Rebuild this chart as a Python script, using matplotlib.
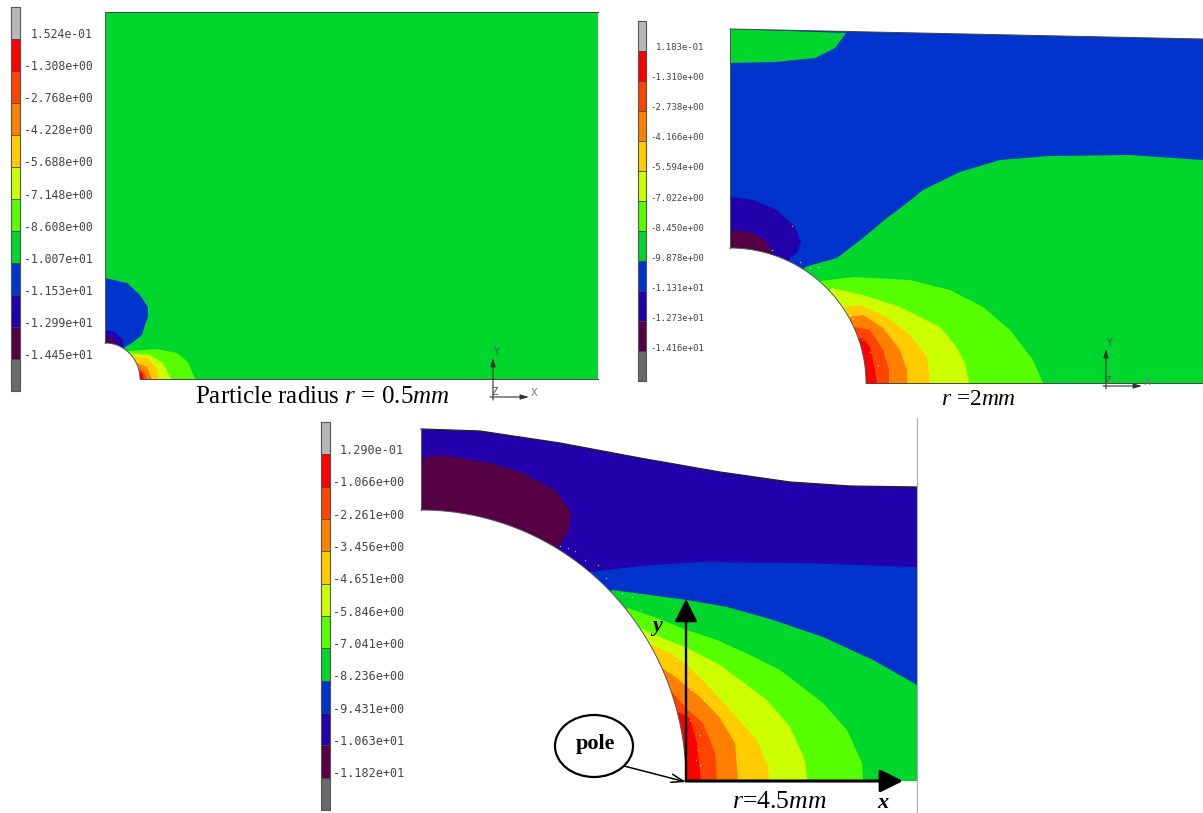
import matplotlib
matplotlib.use('Agg')
import matplotlib.pyplot as plt
from matplotlib.patches import Ellipse
import numpy as np

plt.rcParams['mathtext.fontset'] = 'custom'
plt.rcParams['mathtext.rm'] = 'Liberation Serif'
plt.rcParams['mathtext.it'] = 'Liberation Serif:italic'

# colour bar, top to bottom
colors = ['#b8b8b8', '#ff0000', '#ff4400', '#ff8000', '#ffcc00', '#ccff00',
          '#55ff00', '#00d62c', '#0033cc', '#2200aa', '#550044', '#6a6a6a']
RED, DKORANGE, ORANGE, YELLOW, YGREEN, LGREEN, GREEN, BLUE, INDIGO, PURPLE = colors[1:11]

labels_a = ['1.524e-01', '-1.308e+00', '-2.768e+00', '-4.228e+00', '-5.688e+00', '-7.148e+00',
            '-8.608e+00', '-1.007e+01', '-1.153e+01', '-1.299e+01', '-1.445e+01']
labels_b = ['1.183e-01', '-1.310e+00', '-2.738e+00', '-4.166e+00', '-5.594e+00', '-7.022e+00',
            '-8.450e+00', '-9.878e+00', '-1.131e+01', '-1.273e+01', '-1.416e+01']
labels_c = ['1.290e-01', '-1.066e+00', '-2.261e+00', '-3.456e+00', '-4.651e+00', '-5.846e+00',
            '-7.041e+00', '-8.236e+00', '-9.431e+00', '-1.063e+01', '-1.182e+01']

# contour lines, in image pixels
a_blue = [(105, 278), (127, 283), (140, 295), (148, 307), (148, 317), (145, 325), (142, 335), (132, 343), (125, 347)]
a_indigo = [(105, 330), (115, 332), (123, 340), (123, 348)]
a_purple = [(105, 338), (113, 339), (117, 345)]
a_lgreen = [(128, 351), (157, 349), (177, 353), (188, 362), (195, 379)]
a_ygreen = [(131, 353), (150, 355), (163, 363), (171, 379)]
a_yellow = [(135, 357), (147, 358), (157, 368), (159, 379)]
a_orange = [(137, 363), (147, 367), (152, 379)]
a_dkorange = [(139, 368), (144, 372), (147, 379)]
a_red = [(141, 372), (143, 375), (144, 379)]

b_top = [(730, 29), (1203, 39)]
b_patch = [(730, 29), (846, 33), (835, 48), (815, 58), (775, 62), (730, 63)]
b_green = [(805, 267), (837, 258), (863, 238), (887, 218), (907, 203), (923, 190), (960, 172),
           (1000, 160), (1050, 156), (1130, 155), (1203, 160)]
b_indigo = [(730, 197), (753, 200), (777, 210), (795, 227), (801, 242), (797, 253), (790, 258)]
b_purple = [(730, 230), (750, 232), (765, 240), (772, 252)]
b_lgreen = [(820, 281), (853, 277), (910, 280), (950, 290), (983, 307), (1010, 330), (1033, 360), (1043, 383)]
b_ygreen = [(832, 288), (863, 295), (900, 307), (940, 327), (955, 345), (965, 363), (969, 383)]
b_yellow = [(845, 307), (860, 305), (887, 317), (910, 335), (927, 357), (930, 383)]
b_orange = [(850, 317), (863, 315), (883, 328), (900, 350), (907, 370), (907, 383)]
b_dkorange = [(855, 327), (870, 330), (883, 350), (889, 370), (889, 383)]
b_red = [(862, 338), (870, 347), (875, 370), (877, 383)]

c_top = [(421, 429), (480, 431), (560, 443), (640, 458), (720, 472), (790, 482), (850, 486), (917, 487)]
c_purple = [(421, 458), (442, 455), (490, 463), (520, 472), (555, 490), (571, 512), (568, 532), (558, 548)]
c_blue = [(590, 572), (640, 566), (700, 562), (800, 563), (917, 567)]
c_green = [(612, 590), (650, 595), (687, 600), (727, 607), (773, 620), (823, 637), (873, 660), (917, 685)]
c_lgreen = [(628, 608), (657, 618), (687, 630), (717, 640), (750, 655), (780, 670), (823, 703), (847, 730),
            (862, 763), (863, 781)]
c_ygreen = [(640, 628), (667, 640), (687, 648), (720, 665), (740, 680), (767, 700), (790, 727), (805, 760), (807, 781)]
c_yellow = [(652, 645), (670, 653), (687, 665), (703, 680), (730, 710), (757, 740), (768, 767), (769, 781)]
c_orange = [(662, 668), (677, 678), (687, 687), (700, 697), (720, 718), (735, 743), (738, 781)]
c_dkorange = [(672, 692), (688, 710), (703, 723), (715, 753), (717, 781)]
c_red = [(678, 712), (690, 718), (697, 743), (701, 781)]

# white specks along the particle edge
speck_x = [622, 632, 641, 652, 664, 676, 690, 690, 700, 698, 696, 700, 704, 772, 792, 800, 810, 818, 832, 846, 853,
           862, 870, 878, 598, 606, 575, 585, 560, 568]
speck_y = [593, 597, 610, 622, 632, 660, 690, 720, 735, 750, 760, 765, 700, 250, 226, 262, 268, 267, 288, 300, 318,
           340, 352, 365, 565, 578, 551, 560, 546, 548]

fig = plt.figure(figsize=(12.03, 8.13), dpi=100)
ax = fig.add_axes([0, 0, 1, 1])
ax.set_xlim(0, 1203)
ax.set_ylim(813, 0)
ax.axis('off')


def poly(points, color):
    xs, ys = zip(*points)
    ax.fill(xs, ys, color=color, lw=0)


def below(line, cx, bottom, color):
    # area under a contour, its inner end is hidden by the particle
    poly(line + [(line[-1][0], bottom), (cx, bottom)], color)


def particle(cx, cy, rx, ry):
    t = np.linspace(0, np.pi / 2, 80)
    xs = cx + rx * np.cos(t)
    ys = cy - ry * np.sin(t)
    ax.fill(np.r_[xs, cx], np.r_[ys, cy], color='white', lw=0)
    ax.plot(xs, ys, color='#555555', lw=0.7)


def colorbar(x0, x1, top, bottom, labels, right, size, shift):
    edges = np.linspace(top, bottom, len(colors) + 1)
    for i, c in enumerate(colors):
        ax.fill([x0, x1, x1, x0], [edges[i], edges[i], edges[i + 1], edges[i + 1]], color=c, lw=0)
        ax.plot([x0, x1], [edges[i], edges[i]], color='#444444', lw=0.6)
    ax.plot([x0, x1, x1, x0, x0], [top, top, bottom, bottom, top], color='#555555', lw=0.8)
    for i, s in enumerate(labels):
        ax.text(right, edges[i + 1] - shift, s, family='DejaVu Sans Mono', fontsize=size, color='#444444',
                ha='right', va='center')


def triad(x, y, tip, across):
    style = dict(arrowstyle='-|>,head_length=0.5,head_width=0.15', color='#333333', lw=0.8, shrinkA=0, shrinkB=0)
    ax.annotate('', xy=(x, tip), xytext=(x, y + 3), arrowprops=style)
    ax.annotate('', xy=(x + across, y), xytext=(x - 3, y), arrowprops=style)
    ax.text(x + 3, tip - 6, 'Y', fontsize=7, color='#555555', ha='center', va='center')
    ax.text(x + across + 5, y - 4, 'X', fontsize=7, color='#777777', ha='center', va='center')
    ax.text(x + 2, y - 5, 'Z', fontsize=7, color='#555555', ha='center', va='center')


# r = 0.5
poly([(105, 12), (598, 12), (598, 379), (105, 379)], GREEN)
for line, c in [(a_blue, BLUE), (a_indigo, INDIGO), (a_purple, PURPLE)]:
    poly(line + [(105, 379)], c)
for line, c in [(a_lgreen, LGREEN), (a_ygreen, YGREEN), (a_yellow, YELLOW),
                (a_orange, ORANGE), (a_dkorange, DKORANGE), (a_red, RED)]:
    below(line, 105, 379, c)
particle(105, 379, 35, 36)
ax.plot([105, 598], [12, 12], color='#444444', lw=0.7)
ax.plot([140, 598], [379, 379], color='#444444', lw=0.7)
ax.plot([105, 105], [12, 343], color='#555555', lw=0.7)
colorbar(11, 20, 7, 391, labels_a, 93, 8.3, 4)
triad(493, 397, 358, 36)

# r = 2
poly(b_top + [(1203, 383), (730, 383)], BLUE)
poly(b_patch, GREEN)
below(b_green + [(1203, 383)], 730, 383, GREEN)
poly(b_indigo + [(730, 383)], INDIGO)
poly(b_purple + [(730, 383)], PURPLE)
for line, c in [(b_lgreen, LGREEN), (b_ygreen, YGREEN), (b_yellow, YELLOW),
                (b_orange, ORANGE), (b_dkorange, DKORANGE), (b_red, RED)]:
    below(line, 730, 383, c)
particle(730, 383, 136, 135)
ax.plot(*zip(*b_top), color='#444444', lw=0.7)
ax.plot([866, 1203], [383, 383], color='#444444', lw=0.7)
ax.plot([730, 730], [29, 248], color='#555555', lw=0.7)
colorbar(638, 646, 21, 381, labels_b, 704, 6.5, 3)
triad(1106, 386, 349, 36)

# r = 4.5
poly(c_top + [(917, 781), (421, 781)], INDIGO)
poly(c_purple + [(421, 781)], PURPLE)
below(c_blue + [(917, 781)], 421, 781, BLUE)
below(c_green + [(917, 781)], 421, 781, GREEN)
for line, c in [(c_lgreen, LGREEN), (c_ygreen, YGREEN), (c_yellow, YELLOW),
                (c_orange, ORANGE), (c_dkorange, DKORANGE), (c_red, RED)]:
    below(line, 421, 781, c)
particle(421, 781, 265, 271)
ax.plot(*zip(*c_top), color='#222222', lw=0.9)
ax.plot([421, 421], [429, 510], color='#555555', lw=0.7)
ax.plot([917, 917], [418, 813], color='#aaaaaa', lw=0.8)
colorbar(321, 330, 422, 810, labels_c, 404, 8.5, 4)
ax.scatter(speck_x, speck_y, s=1, color='white', alpha=0.7, linewidths=0)

# captions
serif = 'Liberation Serif'
ax.text(195, 397, r'Particle radius $\mathit{r}$ = 0.5$\mathit{mm}$', family=serif, fontsize=18, va='center')
ax.text(941, 399, r'$\mathit{r}$ =2$\mathit{mm}$', family=serif, fontsize=16.9, va='center')
ax.text(732, 802, r'$\mathit{r}$=4.5$\mathit{mm}$', family=serif, fontsize=18.5, va='center')

# axis arrows and pole callout
ax.annotate('', xy=(686, 599), xytext=(686, 781),
            arrowprops=dict(arrowstyle='-|>,head_length=1.4,head_width=0.7', color='black', lw=1.7, shrinkA=0, shrinkB=0))
ax.annotate('', xy=(903, 781), xytext=(686, 781),
            arrowprops=dict(arrowstyle='-|>,head_length=1.4,head_width=0.7', color='black', lw=2.2, shrinkA=0, shrinkB=0))
ax.text(657, 626, 'y', family=serif, style='italic', weight='bold', fontsize=16, ha='center', va='center')
ax.text(883, 803, 'x', family=serif, style='italic', weight='bold', fontsize=16, ha='center', va='center')
ax.add_patch(Ellipse((594, 746), 78, 62, facecolor='white', edgecolor='black', lw=1.6))
ax.text(595, 744, 'pole', family=serif, weight='bold', fontsize=16, ha='center', va='center')
ax.annotate('', xy=(686, 782), xytext=(624, 766),
            arrowprops=dict(arrowstyle='->,head_length=0.9,head_width=0.3', color='black', lw=1.1, shrinkA=0, shrinkB=0))

fig.savefig('out.png', dpi=100)
plt.close()
